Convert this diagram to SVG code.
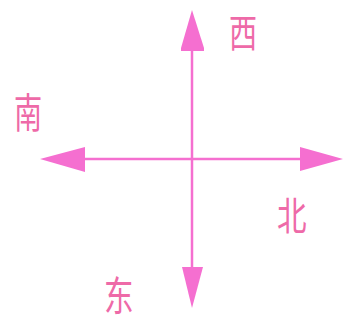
<svg xmlns="http://www.w3.org/2000/svg" width="349" height="327" viewBox="0 0 349 327">
<style>
.ln{stroke:#f56fd0;stroke-width:2.5;fill:none}
.ah{fill:#f56fd0;stroke:none}
.lb{font-family:"Noto Sans CJK SC",sans-serif;font-size:29px;fill:#ee6aa8;font-weight:normal}
</style>
<rect width="349" height="327" fill="#fff"/>
<g id="connectors">
<line class="ln" x1="192" y1="45" x2="192" y2="270"/>
<line class="ln" x1="82" y1="159" x2="302" y2="159"/>
<polygon class="ah" points="192,10 181,48 204,48"/>
<rect class="ah" x="181" y="48" width="23" height="3"/>
<polygon class="ah" points="40,159 85,147 85,172"/>
<polygon class="ah" points="343,159 300,147 300,171"/>
<polygon class="ah" points="192,308 182,267 203,267"/>
</g>
<g id="xi"><text class="lb" transform="translate(229,47) scale(0.97,1.35)">西</text></g>
<g id="nan"><text class="lb" transform="translate(14,128) scale(0.97,1.4)">南</text></g>
<g id="bei"><text class="lb" transform="translate(277,230) scale(1.02,1.35)">北</text></g>
<g id="dong"><text class="lb" transform="translate(104,311) scale(1.02,1.4)">东</text></g>
</svg>
